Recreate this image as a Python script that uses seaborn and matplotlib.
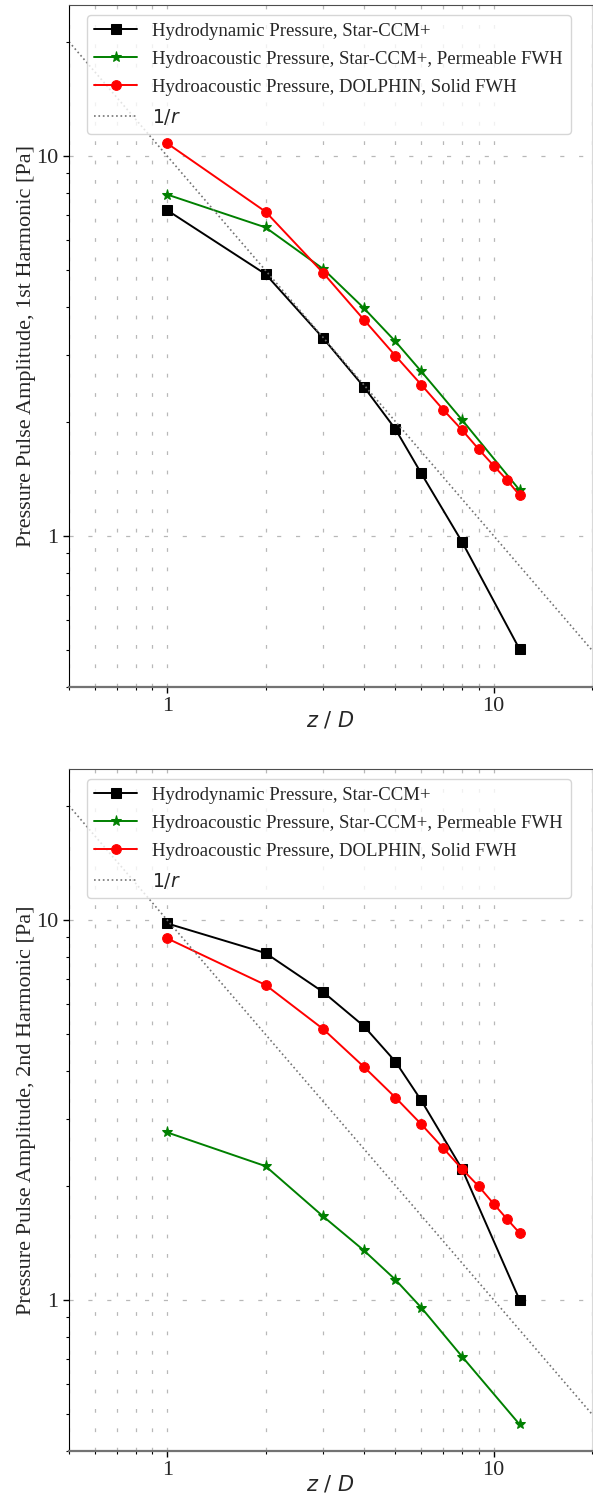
import matplotlib
matplotlib.use("Agg")
import matplotlib.pyplot as plt
import seaborn as sns

# distances z/D
z_dyn = [1, 2, 3, 4, 5, 6, 8, 12]
z_fwh = [1, 2, 3, 4, 5, 6, 8, 12]
z_dol = [1, 2, 3, 4, 5, 6, 7, 8, 9, 10, 11, 12]

# 1st harmonic amplitudes [Pa]
h1_dyn = [7.20, 4.89, 3.32, 2.47, 1.91, 1.46, 0.964, 0.503]
h1_fwh = [7.92, 6.49, 5.05, 3.98, 3.25, 2.71, 2.02, 1.32]
h1_dol = [10.8, 7.14, 4.93, 3.71, 2.98, 2.50, 2.15, 1.90, 1.69, 1.53, 1.40, 1.28]

# 2nd harmonic amplitudes [Pa]
h2_dyn = [9.80, 8.19, 6.47, 5.26, 4.24, 3.35, 2.21, 1.00]
h2_fwh = [2.76, 2.25, 1.66, 1.35, 1.13, 0.954, 0.709, 0.470]
h2_dol = [8.95, 6.75, 5.17, 4.11, 3.41, 2.90, 2.51, 2.21, 1.99, 1.79, 1.63, 1.50]

# 1/r reference line (10/r)
r_ref = [0.5, 20]
p_ref = [20, 0.5]

labels = [
    "Hydrodynamic Pressure, Star-CCM+",
    "Hydroacoustic Pressure, Star-CCM+, Permeable FWH",
    "Hydroacoustic Pressure, DOLPHIN, Solid FWH",
    r"$1/r$",
]

sns.set_style("white")
plt.rcParams["font.family"] = "serif"
plt.rcParams["font.serif"] = ["Liberation Serif", "DejaVu Serif"]
plt.rcParams["mathtext.fontset"] = "dejavusans"


def desenhar(ax, dyn, fwh, dol, ylabel):
    ax.set_xscale("log")
    ax.set_yscale("log")
    sns.lineplot(x=z_dyn, y=dyn, ax=ax, color="k", marker="s", markersize=6.5,
                 markeredgecolor="k", lw=1.4, label=labels[0])
    sns.lineplot(x=z_fwh, y=fwh, ax=ax, color="green", marker="*", markersize=8,
                 markeredgecolor="green", lw=1.4, label=labels[1])
    sns.lineplot(x=z_dol, y=dol, ax=ax, color="red", marker="o", markersize=7,
                 markeredgecolor="red", lw=1.4, label=labels[2])
    sns.lineplot(x=r_ref, y=p_ref, ax=ax, color="0.45", ls=":", lw=1.2, label=labels[3])

    ax.set_xlim(0.5, 20)
    ax.set_ylim(0.4, 25)
    ax.set_xticks([1, 10])
    ax.set_xticklabels(["1", "10"])
    ax.set_yticks([1, 10])
    ax.set_yticklabels(["1", "10"])
    ax.tick_params(which="both", direction="out", labelsize=16, color="k")
    ax.tick_params(which="major", length=4, width=1)
    ax.tick_params(which="minor", length=2.5, width=0.8)
    ax.tick_params(axis="x", which="both", bottom=True)
    ax.tick_params(axis="y", which="both", left=True)

    ax.grid(True, which="major", axis="y", color="0.72", lw=0.9, ls=(0, (3.3, 11.8)))
    ax.grid(True, which="both", axis="x", color="0.72", lw=0.9, ls=(0, (3.0, 12.5)))

    ax.spines["left"].set_color("k")
    ax.spines["top"].set_color("0.3")
    ax.spines["bottom"].set_color("0.45")
    ax.spines["bottom"].set_linewidth(1.6)
    ax.spines["right"].set_color("0.85")

    ax.set_xlabel(r"$z\ /\ D$", fontsize=15, labelpad=-4)
    ax.set_ylabel(ylabel, fontsize=16, labelpad=0)

    ax.legend(loc="upper left", bbox_to_anchor=(0.034, 0.985), borderaxespad=0,
              fontsize=13.5, handlelength=2.3, labelspacing=0.58,
              frameon=True, edgecolor="0.8")


fig = plt.figure(figsize=(5.93, 15.01), dpi=100)
ax1 = fig.add_axes([69 / 593, 1 - 687 / 1501, 523 / 593, 682 / 1501])
ax2 = fig.add_axes([69 / 593, 1 - 1451 / 1501, 523 / 593, 682 / 1501])

desenhar(ax1, h1_dyn, h1_fwh, h1_dol, "Pressure Pulse Amplitude, 1st Harmonic [Pa]")
desenhar(ax2, h2_dyn, h2_fwh, h2_dol, "Pressure Pulse Amplitude, 2nd Harmonic [Pa]")

fig.savefig("out.png", dpi=100)
